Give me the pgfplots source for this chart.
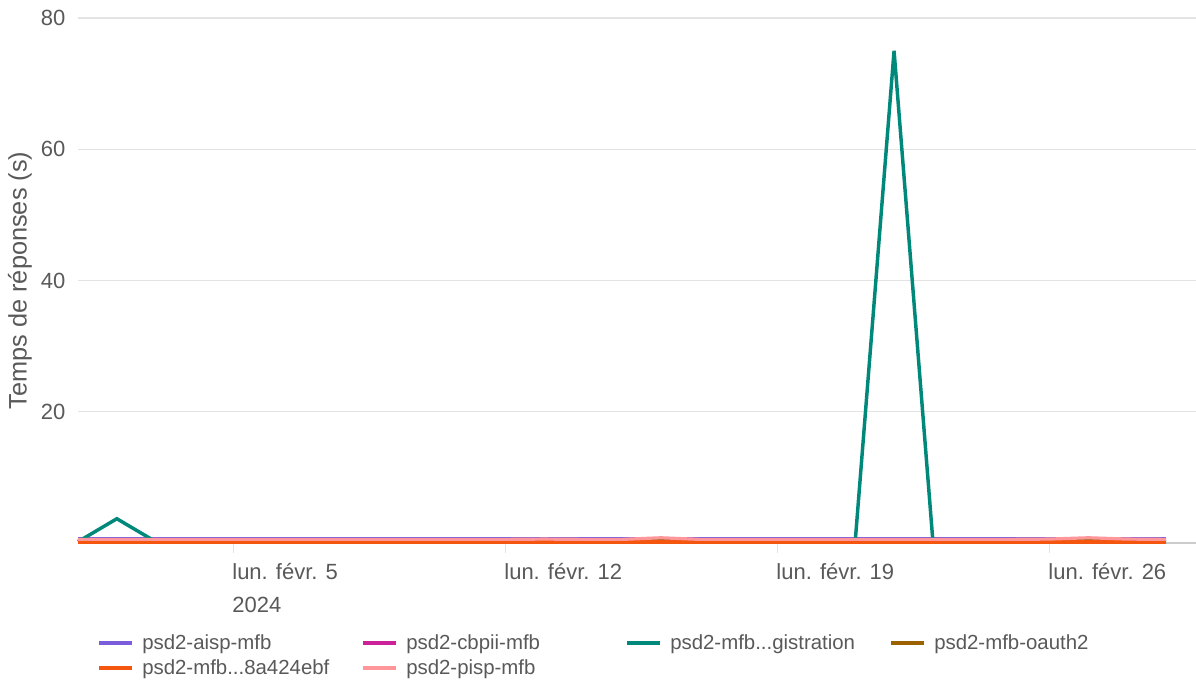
\documentclass[border=0pt]{standalone}
\usepackage{pgfplots}
\pgfplotsset{compat=1.18}
\usepackage{fontspec}
\setmainfont{Liberation Sans}
\definecolor{caisp}{HTML}{7B5CDB}
\definecolor{ccbpii}{HTML}{CC2299}
\definecolor{cteal}{HTML}{00897B}
\definecolor{coauth}{HTML}{9C6100}
\definecolor{corange}{HTML}{F5560F}
\definecolor{cpink}{HTML}{FF979A}
\definecolor{txt}{HTML}{595959}
\definecolor{gridc}{HTML}{E3E3E3}
\definecolor{axc}{HTML}{CCCCCC}
\begin{document}
\begin{tikzpicture}
\begin{axis}[
  scale only axis,
  width=838.5pt, height=393.75pt,
  xmin=1, xmax=29.77, ymin=0, ymax=80,
  /pgf/number format/assume math mode=true,
  axis x line*=bottom, axis y line*=left,
  x axis line style={draw=axc, line width=1pt, -},
  y axis line style={draw=none},
  xtick={5,12,19,26},
  xticklabels={{lun. févr. 5\\2024},{lun. févr. 12},{lun. févr. 19},{lun. févr. 26}},
  xticklabel style={anchor=north west, align=left, font=\fontsize{16.5}{25}\selectfont, text=txt, inner xsep=0pt, xshift=-1pt, yshift=-4pt},
  tick align=outside, major tick length=7.5pt,
  x tick style={draw=gridc, line width=1pt},
  ytick={20,40,60,80},
  ymajorgrids, grid style={draw=gridc, line width=1pt},
  y tick style={draw=none},
  yticklabel style={font=\fontsize{16.5}{20}\selectfont, text=txt, xshift=1.5pt},
  ylabel={Temps de réponses (s)},
  every axis y label/.style={at={(axis description cs:-0.0519,0.5)}, rotate=90, anchor=center, font=\fontsize{19}{21}\selectfont, text=txt},
  legend columns=4,
  legend cell align=left,
  legend image code/.code={\draw[#1, line width=3pt] (0pt,0pt) -- (24.75pt,0pt);},
  legend style={at={(axis description cs:0,0)}, anchor=north west, xshift=11.25pt, yshift=-65pt,
    draw=none, fill=none, font=\fontsize{15.3}{16}\selectfont, text=txt,
    row sep=3pt,
    nodes={inner xsep=0pt, inner ysep=1.5pt},
    /tikz/every odd column/.append style={column sep=6pt},
    /tikz/every even column/.append style={column sep=0pt}},
  no markers,
  clip=false,
]
\addplot[caisp, line width=2.4pt] coordinates {(1,0.7)(2,0.7)(3,0.7)(4,0.7)(5,0.7)(6,0.7)(7,0.7)(8,0.7)(9,0.7)(10,0.7)(11,0.7)(12,0.7)(13,0.7)(14,0.7)(15,0.7)(16,0.7)(17,0.7)(18,0.7)(19,0.7)(20,0.7)(21,0.7)(22,0.7)(23,0.7)(24,0.7)(25,0.7)(26,0.7)(27,0.7)(28,0.7)(29,0.7)};
\addlegendentry{\makebox[164.25pt][l]{psd2-aisp-mfb}}
\addplot[ccbpii, line width=2.4pt] coordinates {(1,0.5)(2,0.5)(3,0.5)(4,0.5)(5,0.5)(6,0.5)(7,0.5)(8,0.5)(9,0.5)(10,0.5)(11,0.5)(12,0.5)(13,0.5)(14,0.5)(15,0.5)(16,0.5)(17,0.5)(18,0.5)(19,0.5)(20,0.5)(21,0.5)(22,0.5)(23,0.5)(24,0.5)(25,0.5)(26,0.5)(27,0.5)(28,0.5)(29,0.5)};
\addlegendentry{\makebox[164.25pt][l]{psd2-cbpii-mfb}}
\addplot[cteal, line width=2.6pt] coordinates {(1,0.2)(2,3.7)(3,0.2)(4,0.2)(5,0.2)(6,0.2)(7,0.2)(8,0.2)(9,0.2)(10,0.2)(11,0.2)(12,0.2)(13,0.2)(14,0.2)(15,0.2)(16,0.2)(17,0.2)(18,0.2)(19,0.2)(20,0.2)(21,0.2)(22,75)(23,0.2)(24,0.2)(25,0.2)(26,0.2)(27,0.2)(28,0.2)(29,0.2)};
\addlegendentry{\makebox[164.25pt][l]{psd2-mfb...gistration}}
\addplot[coauth, line width=2.4pt] coordinates {(1,0.3)(2,0.3)(3,0.3)(4,0.3)(5,0.3)(6,0.3)(7,0.3)(8,0.3)(9,0.3)(10,0.3)(11,0.3)(12,0.3)(13,0.3)(14,0.3)(15,0.3)(16,0.3)(17,0.3)(18,0.3)(19,0.3)(20,0.3)(21,0.3)(22,0.3)(23,0.3)(24,0.3)(25,0.3)(26,0.3)(27,0.3)(28,0.3)(29,0.3)};
\addlegendentry{\makebox[164.25pt][l]{psd2-mfb-oauth2}}
\addplot[corange, line width=2.4pt] coordinates {(1,0.15)(2,0.15)(3,0.15)(4,0.15)(5,0.15)(6,0.15)(7,0.15)(8,0.15)(9,0.15)(10,0.15)(11,0.15)(12,0.15)(13,0.15)(14,0.15)(15,0.15)(16,0.15)(17,0.15)(18,0.15)(19,0.15)(20,0.15)(21,0.15)(22,0.15)(23,0.15)(24,0.15)(25,0.15)(26,0.15)(27,0.15)(28,0.15)(29,0.15)};
\addlegendentry{\makebox[164.25pt][l]{psd2-mfb...8a424ebf}}
\addplot[cpink, line width=2.4pt] coordinates {(1,0.55)(2,0.55)(3,0.55)(4,0.55)(5,0.55)(6,0.55)(7,0.55)(8,0.55)(9,0.55)(10,0.55)(11,0.55)(12,0.55)(13,0.6)(14,0.55)(15,0.55)(16,0.8)(17,0.55)(18,0.55)(19,0.55)(20,0.55)(21,0.55)(22,0.55)(23,0.55)(24,0.55)(25,0.55)(26,0.6)(27,0.8)(28,0.6)(29,0.55)};
\addlegendentry{\makebox[164.25pt][l]{psd2-pisp-mfb}}
\end{axis}
\pgfresetboundingbox
\path[use as bounding box] (-58.5pt,-102pt) rectangle (838.5pt,407.25pt);
\end{tikzpicture}
\end{document}
